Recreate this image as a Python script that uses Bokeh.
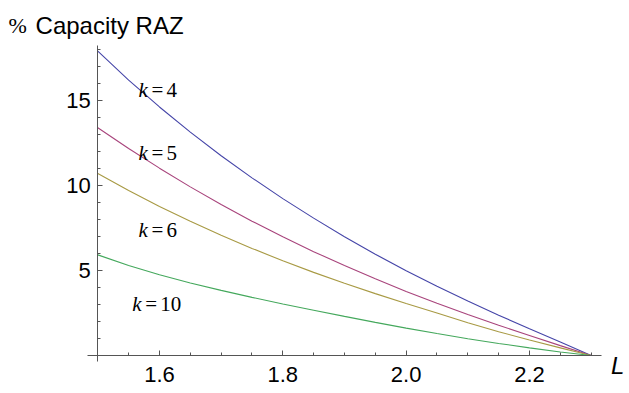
from bokeh.plotting import figure
from bokeh.models import FixedTicker, Label, ColumnDataSource, NumeralTickFormatter
from bokeh.core.properties import value
from bokeh.embed import file_html
from bokeh.resources import INLINE

# ---- data ----
L_values = [1.50, 1.55, 1.60, 1.65, 1.70, 1.75, 1.80, 1.85, 1.90,
            1.95, 2.00, 2.05, 2.10, 2.15, 2.20, 2.25, 2.30]
cap_k4 = [17.9, 16.2, 14.62, 13.14, 11.75, 10.45, 9.23, 8.08, 6.99,
          5.96, 4.99, 4.07, 3.20, 2.37, 1.57, 0.80, 0.0]
cap_k5 = [13.4, 12.18, 11.02, 9.92, 8.88, 7.90, 6.98, 6.11, 5.29,
          4.51, 3.77, 3.07, 2.41, 1.78, 1.18, 0.58, 0.0]
cap_k6 = [10.7, 9.70, 8.77, 7.90, 7.08, 6.30, 5.57, 4.89, 4.25,
          3.64, 3.06, 2.50, 1.93, 1.40, 0.91, 0.45, 0.0]
cap_k10 = [5.92, 5.30, 4.75, 4.27, 3.83, 3.42, 3.03, 2.66, 2.30,
           1.95, 1.61, 1.29, 0.99, 0.71, 0.45, 0.21, 0.0]

k_names = ["4", "5", "6", "10"]
x_major = [1.6, 1.8, 2.0, 2.2]
x_minor = [1.55, 1.65, 1.7, 1.75, 1.85, 1.9, 1.95, 2.05, 2.1, 2.15, 2.25, 2.3]
y_major = [5, 10, 15]
y_minor = [1, 2, 3, 4, 6, 7, 8, 9, 11, 12, 13, 14, 16, 17, 18]

# label anchor positions (annotation placement)
label_x = [1.566, 1.566, 1.566, 1.556]
label_y = [15.6, 11.9, 7.39, 3.04]

colors = ["#4545a8", "#a8447c", "#a89a44", "#44a85c"]

# frame covers the whole canvas so that all texts lie inside it
p = figure(width=629, height=393, output_backend="svg", toolbar_location=None,
           x_range=(1.3422, 2.3622), y_range=(-2.235, 20.882),
           min_border_left=0, min_border_right=0,
           min_border_top=0, min_border_bottom=0)
p.outline_line_color = None
p.grid.visible = False
p.background_fill_color = "white"
p.border_fill_color = "white"

for ys, c in zip([cap_k4, cap_k5, cap_k6, cap_k10], colors):
    p.line(L_values, ys, line_color=c, line_width=1.1)

# axes crossing at (1.5, 0)
xa = p.xaxis[0]
ya = p.yaxis[0]
xa.fixed_location = 0
ya.fixed_location = 1.5
xa.bounds = (1.484, 2.316)
ya.bounds = (-0.35, 18.25)
for ax in (xa, ya):
    ax.axis_line_color = "#555555"
    ax.major_tick_line_color = "#555555"
    ax.minor_tick_line_color = "#555555"
    ax.major_tick_in = 5
    ax.major_tick_out = 0
    ax.minor_tick_in = 3
    ax.minor_tick_out = 0
    ax.major_label_text_font = "Liberation Sans"
    ax.major_label_text_font_size = "22px"
    ax.major_label_text_color = "black"
xa.ticker = FixedTicker(ticks=x_major, minor_ticks=x_minor)
ya.ticker = FixedTicker(ticks=y_major, minor_ticks=y_minor)
xa.formatter = NumeralTickFormatter(format="0.0")
xa.major_label_standoff = 11
ya.major_label_standoff = 7

# curve labels: italic k, then "=", then the number
src = ColumnDataSource(dict(x=label_x, y=label_y, num=k_names,
                            k=["k"] * 4, eq=["="] * 4))
p.text(x="x", y="y", text="k", source=src, text_font=value("Liberation Serif"),
       text_font_style="italic", text_font_size="21px", text_color="black",
       text_baseline="alphabetic", text_align="left")
p.text(x="x", y="y", text="eq", source=src, text_font=value("Liberation Serif"),
       text_font_size="21px", text_color="black", x_offset=13,
       text_baseline="alphabetic", text_align="left")
p.text(x="x", y="y", text="num", source=src, text_font=value("Liberation Serif"),
       text_font_size="21px", text_color="black", x_offset=28,
       text_baseline="alphabetic", text_align="left")

# axis titles
p.add_layout(Label(x=1.3553, y=19.41, text="%", text_font="Liberation Serif",
                   text_font_size="22px", text_color="black", text_baseline="alphabetic"))
p.add_layout(Label(x=1.3553, y=19.41, x_offset=27, text="Capacity RAZ",
                   text_font="Liberation Sans", text_font_size="24px",
                   text_color="black", text_baseline="alphabetic"))
p.add_layout(Label(x=2.3322, y=-0.588, text="L", text_font="Liberation Sans",
                   text_font_style="italic", text_font_size="24px",
                   text_color="black", text_baseline="alphabetic"))

open("out.html", "w").write(file_html(p, INLINE))
